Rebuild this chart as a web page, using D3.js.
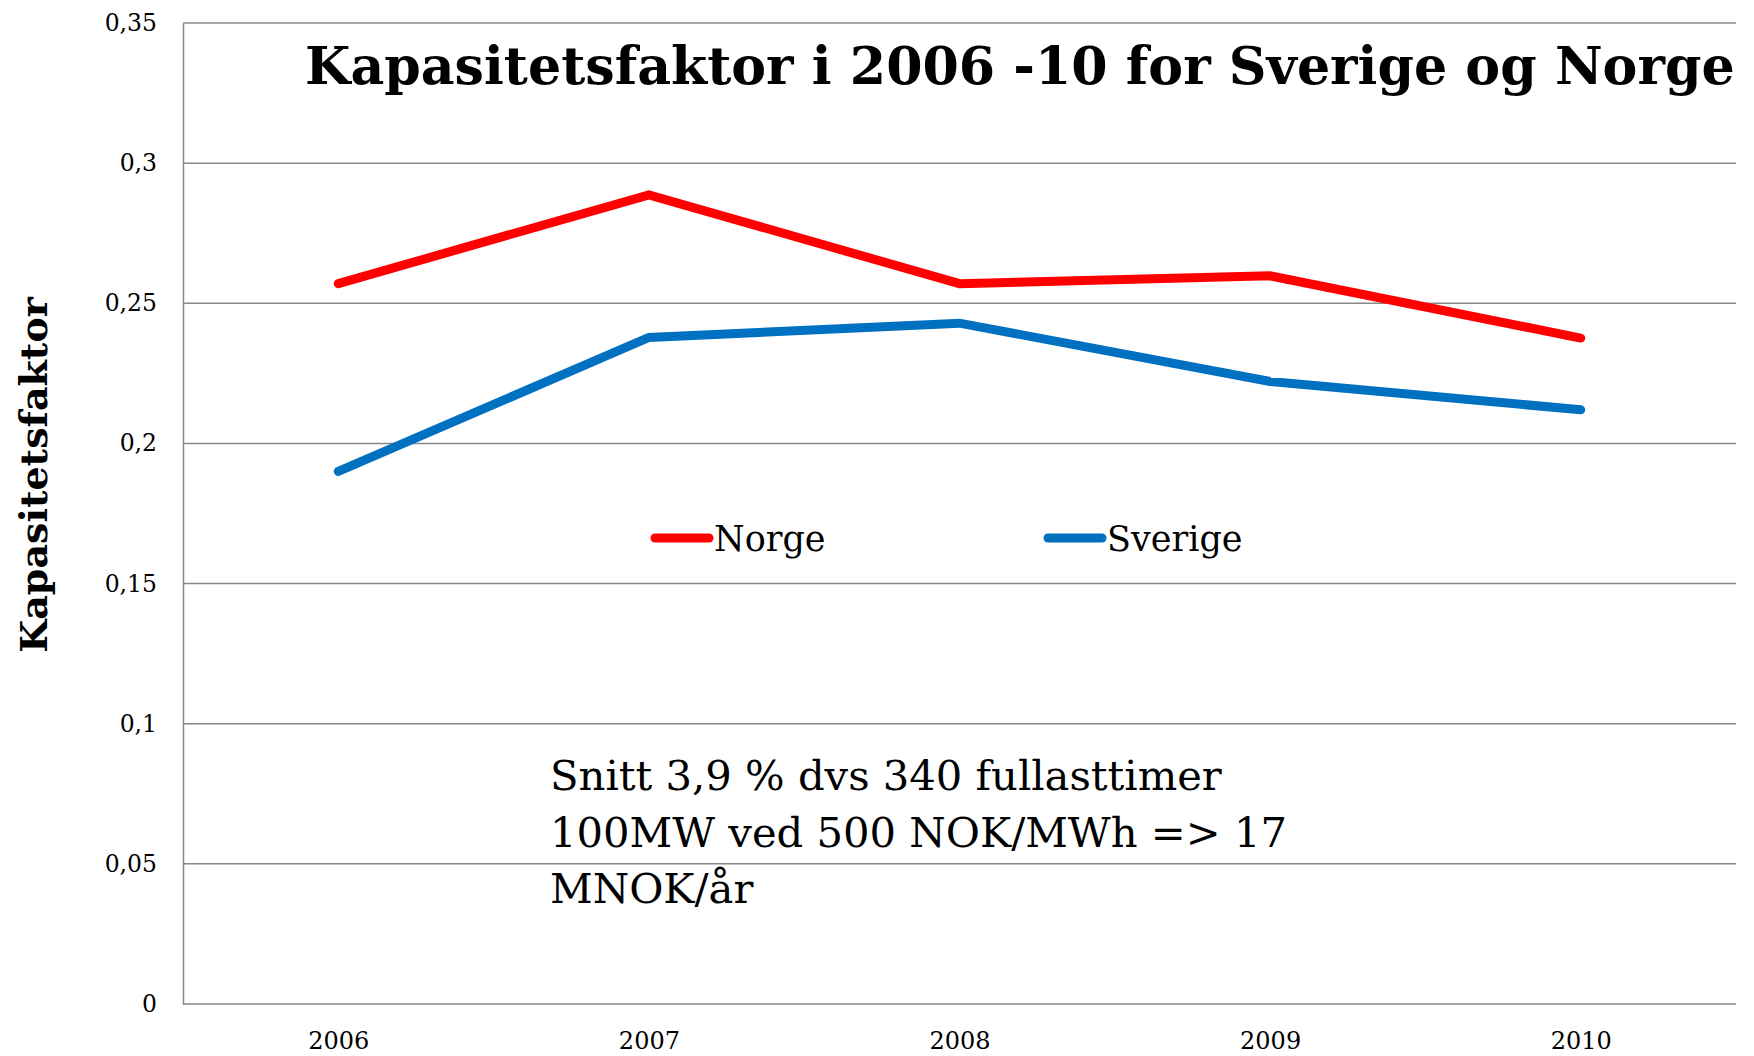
<!DOCTYPE html>
<html>
<head>
<meta charset="utf-8">
<title>Kapasitetsfaktor</title>
<script src="https://cdn.jsdelivr.net/npm/d3@7"></script>
<style>
body { margin: 0; background: #fff; }
text { font-family: "DejaVu Serif", serif; fill: #000; }
.grid line { stroke: #888; stroke-width: 1.5; }
</style>
</head>
<body>
<script>
// data
var years = ["2006", "2007", "2008", "2009", "2010"];
var norge = [0.257, 0.2887, 0.257, 0.2598, 0.2376];
var sverige = [0.190, 0.2378, 0.2429, 0.2221, 0.212];
var yTicks = [0, 0.05, 0.1, 0.15, 0.2, 0.25, 0.3, 0.35];
var seriesNames = ["Norge", "Sverige"];
var seriesColors = ["#ff0000", "#0070c0"];
var noteLines = ["Snitt 3,9 % dvs 340 fullasttimer", "100MW ved 500 NOK/MWh => 17", "MNOK/år"];

var width = 1754, height = 1056;
var margin = {top: 23, right: 18, bottom: 52, left: 183};

var svg = d3.select("body").append("svg")
    .attr("width", width)
    .attr("height", height);

var x = d3.scalePoint()
    .domain(years)
    .range([margin.left, width - margin.right])
    .padding(0.5);

var y = d3.scaleLinear()
    .domain([0, 0.35])
    .range([height - margin.bottom, margin.top]);

var nb = d3.formatLocale({decimal: ",", thousands: " ", grouping: [3], currency: ["", ""]});
var fmt = nb.format("~g");

// horizontal gridlines
svg.append("g").attr("class", "grid")
  .selectAll("line")
  .data(yTicks)
  .enter().append("line")
    .attr("x1", margin.left)
    .attr("x2", width - margin.right)
    .attr("y1", function(d) { return y(d); })
    .attr("y2", function(d) { return y(d); });

// y axis
var yAxis = svg.append("g")
    .attr("transform", "translate(" + margin.left + ",0)")
    .call(d3.axisLeft(y).tickValues(yTicks).tickFormat(fmt).tickSize(0).tickPadding(26));
yAxis.select(".domain").attr("stroke", "#888").attr("stroke-width", 1.5);
yAxis.selectAll("text").style("font-size", "23.5px").style("font-family", "DejaVu Serif");

// x axis
var xAxis = svg.append("g")
    .attr("transform", "translate(0," + y(0) + ")")
    .call(d3.axisBottom(x).tickSize(0).tickPadding(28));
xAxis.select(".domain").remove();
xAxis.selectAll("text").style("font-size", "24px").style("font-family", "DejaVu Serif");

// lines
var line = d3.line()
    .x(function(d, i) { return x(years[i]); })
    .y(function(d) { return y(d); });

[norge, sverige].forEach(function(s, i) {
  svg.append("path")
    .datum(s)
    .attr("d", line)
    .attr("fill", "none")
    .attr("stroke", seriesColors[i])
    .attr("stroke-width", 9)
    .attr("stroke-linecap", "round")
    .attr("stroke-linejoin", "miter");
});

// legend
var legX = [655, 1048];
seriesNames.forEach(function(n, i) {
  var g = svg.append("g").attr("transform", "translate(" + legX[i] + ",538)");
  g.append("line")
    .attr("x1", 0).attr("x2", 54)
    .attr("stroke", seriesColors[i])
    .attr("stroke-width", 9)
    .attr("stroke-linecap", "round");
  g.append("text")
    .attr("x", 59)
    .attr("y", 13)
    .style("font-size", "35px")
    .text(n);
});

// note
svg.append("g").selectAll("text")
  .data(noteLines)
  .enter().append("text")
    .attr("x", 550)
    .attr("y", function(d, i) { return 790 + i * 56.5; })
    .style("font-size", "41.7px")
    .text(function(d) { return d; });

// title - shrink font until it fits between x=305 and the right edge
var title = svg.append("text")
    .attr("x", 305)
    .attr("y", 84)
    .style("font-size", "60px")
    .style("font-weight", "bold")
    .text("Kapasitetsfaktor i 2006 -10 for Sverige og Norge");
var tw = title.node().getComputedTextLength();
if (tw > 1430) title.style("font-size", (60 * 1430 / tw) + "px");

// y axis title
svg.append("text")
    .attr("transform", "translate(47,475) rotate(-90)")
    .attr("text-anchor", "middle")
    .style("font-size", "38px")
    .style("font-weight", "bold")
    .text("Kapasitetsfaktor");
</script>
</body>
</html>
